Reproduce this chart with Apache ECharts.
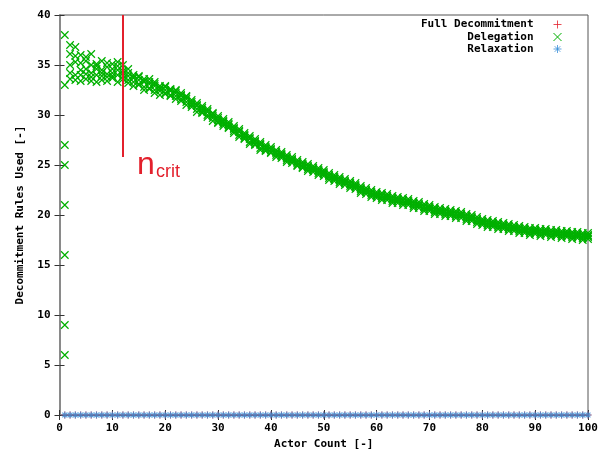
<!DOCTYPE html>
<html>
<head>
<meta charset="utf-8">
<script src="https://cdn.jsdelivr.net/npm/echarts@6/dist/echarts.min.js"></script>
<style>
  html, body { margin: 0; padding: 0; background: #fff; }
  #chart { width: 604px; height: 450px; }
</style>
</head>
<body>
<div id="chart"></div>
<script>
// Actor counts (x) shared by every run
const actorCounts = [1,2,3,4,5,6,7,8,9,10,11,12,13,14,15,16,17,18,19,20,
  21,22,23,24,25,26,27,28,29,30,31,32,33,34,35,36,37,38,39,40,
  41,42,43,44,45,46,47,48,49,50,51,52,53,54,55,56,57,58,59,60,
  61,62,63,64,65,66,67,68,69,70,71,72,73,74,75,76,77,78,79,80,
  81,82,83,84,85,86,87,88,89,90,91,92,93,94,95,96,97,98,99,100];

// Delegation: decommitment rules used, one array per simulation run
const delegationRunA = [38,37.0,36.8,35.2,33.6,35.0,34.0,35.4,33.8,34.6,
  33.3,34.4,33.5,34.0,33.1,33.6,32.7,33.1,32.4,32.8,
  32.0,32.5,31.6,31.9,31.0,31.2,30.3,30.6,29.7,29.9,
  29.1,29.3,28.4,28.6,27.7,27.9,27.1,27.3,26.5,26.8,
  26.0,26.3,25.5,25.8,25.0,25.3,24.6,24.9,24.2,24.5,
  23.7,24.0,23.3,23.6,22.9,23.2,22.4,22.7,22.0,22.3,
  21.7,22.1,21.4,21.8,21.2,21.6,20.9,21.3,20.6,21.0,
  20.3,20.7,20.1,20.5,19.9,20.3,19.6,20.0,19.3,19.6,
  19.0,19.4,18.8,19.2,18.6,19.0,18.4,18.8,18.2,18.7,
  18.1,18.6,18.0,18.5,17.9,18.4,17.8,18.3,17.7,18.2];
const delegationRunB = [33,34.2,34.0,33.4,35.4,33.8,35.1,33.9,34.8,33.7,
  34.5,33.6,34.2,33.3,33.8,32.8,33.3,32.5,32.9,32.2,
  32.6,31.9,32.2,31.3,31.5,30.6,30.9,30.0,30.2,29.3,
  29.6,28.7,28.9,28.0,28.2,27.3,27.6,26.7,27.0,26.2,
  26.5,25.7,26.0,25.2,25.5,24.7,25.1,24.3,24.7,23.9,
  24.2,23.4,23.8,23.0,23.4,22.6,22.9,22.1,22.5,21.7,
  22.2,21.5,21.9,21.2,21.7,21.0,21.4,20.7,21.1,20.4,
  20.8,20.1,20.6,19.9,20.4,19.7,20.1,19.4,19.8,19.0,
  19.5,18.8,19.3,18.6,19.1,18.4,18.9,18.2,18.7,18.1,
  18.6,18.0,18.5,17.9,18.4,17.8,18.3,17.7,18.2,17.6];
const delegationRunC = [27,36.1,35.3,36.0,34.1,36.1,33.3,34.5,35.2,34.2,
  34.0,35.0,33.9,33.7,33.5,33.3,33.1,32.9,32.7,32.5,
  32.4,32.2,32.0,31.6,31.3,30.9,30.7,30.4,29.9,29.7,
  29.4,29.1,28.7,28.4,28.0,27.7,27.4,27.1,26.8,26.5,
  26.3,26.1,25.8,25.6,25.3,25.1,24.9,24.7,24.5,24.3,
  24.0,23.8,23.6,23.4,23.2,23.0,22.7,22.5,22.3,22.1,
  22.0,21.9,21.7,21.6,21.5,21.4,21.2,21.1,20.9,20.8,
  20.6,20.5,20.4,20.3,20.2,20.1,19.9,19.8,19.6,19.4,
  19.3,19.2,19.1,19.0,18.9,18.8,18.7,18.6,18.5,18.5,
  18.4,18.4,18.3,18.3,18.2,18.2,18.1,18.1,18.0,18.0];
const delegationRunD = [25,35.0,33.5,34.5,35.8,34.2,34.6,33.5,34.1,35.1,
  34.9,33.9,33.2,32.9,33.0,32.5,33.6,32.2,32.0,32.9,
  31.9,31.6,31.4,31.0,30.8,30.3,30.5,29.8,29.4,29.5,
  28.9,28.8,28.2,27.8,27.6,27.1,27.0,26.5,26.4,26.3,
  25.8,25.9,25.3,25.4,24.9,24.8,24.4,24.5,24.0,24.1,
  23.5,23.6,23.1,23.2,22.7,22.8,22.2,22.3,21.8,21.9,
  21.5,21.7,21.2,21.4,21.0,21.2,20.7,20.9,20.4,20.6,
  20.1,20.3,19.9,20.1,19.7,19.9,19.4,19.6,19.1,19.2,
  18.8,19.0,18.6,18.8,18.4,18.6,18.2,18.4,18.0,18.3,
  17.9,18.2,17.8,18.1,17.7,18.0,17.6,17.9,17.5,17.8];
const delegationRunE = [21,33.6,35.9,34.0,34.6,33.4,34.9,34.2,33.4,33.9,
  35.3,34.2,34.6,33.8,33.9,33.4,32.6,33.3,32.6,32.1,
  32.5,32.4,31.9,31.8,31.1,31.0,30.2,30.3,30.1,29.2,
  29.3,29.0,28.6,28.3,27.9,27.6,27.3,27.0,26.7,26.6,
  26.2,26.0,25.7,25.5,25.2,25.0,24.8,24.6,24.4,24.2,
  23.9,23.7,23.5,23.3,23.1,22.9,22.6,22.4,22.2,22.0,
  21.9,21.8,21.6,21.5,21.4,21.3,21.1,21.0,20.8,20.7,
  20.5,20.4,20.3,20.2,20.1,20.0,19.8,19.7,19.5,19.3,
  19.2,19.1,19.0,18.9,18.8,18.7,18.6,18.5,18.4,18.4,
  18.3,18.3,18.2,18.2,18.1,18.1,18.0,18.0,17.9,17.9];
// Remaining runs at a single actor
const delegationSingleActorExtra = [16, 9, 6];

// Full decommitment and relaxation stay at zero for every actor count
const fullDecommitment = [0,0,0,0,0,0,0,0,0,0,0,0,0,0,0,0,0,0,0,0,
  0,0,0,0,0,0,0,0,0,0,0,0,0,0,0,0,0,0,0,0,
  0,0,0,0,0,0,0,0,0,0,0,0,0,0,0,0,0,0,0,0,
  0,0,0,0,0,0,0,0,0,0,0,0,0,0,0,0,0,0,0,0,
  0,0,0,0,0,0,0,0,0,0,0,0,0,0,0,0,0,0,0,0];
const relaxation = [0,0,0,0,0,0,0,0,0,0,0,0,0,0,0,0,0,0,0,0,
  0,0,0,0,0,0,0,0,0,0,0,0,0,0,0,0,0,0,0,0,
  0,0,0,0,0,0,0,0,0,0,0,0,0,0,0,0,0,0,0,0,
  0,0,0,0,0,0,0,0,0,0,0,0,0,0,0,0,0,0,0,0,
  0,0,0,0,0,0,0,0,0,0,0,0,0,0,0,0,0,0,0,0];

// Critical actor count marker
const nCrit = 12;
const nCritLineTop = 40;
const nCritLineBottom = 25.8;

// Axis ranges
const xRange = { min: 0, max: 100, interval: 10 };
const yRange = { min: 0, max: 40, interval: 5 };

const seriesNames = ['Full Decommitment', 'Delegation', 'Relaxation'];

const MONO = 'DejaVu Sans Mono';
const RED = '#e3202c';
const GREEN = '#00b000';
const BLUE = '#3a8ed8';

const PLUS = 'path://M5,0L5,10M0,5L10,5';
const CROSS = 'path://M0,0L10,10M10,0L0,10';
const STAR = 'path://M5,0L5,10M0,5L10,5M1.5,1.5L8.5,8.5M8.5,1.5L1.5,8.5';

function pairs(xs, ys) {
  return xs.map((x, i) => [x, ys[i]]);
}

const delegationData = []
  .concat(pairs(actorCounts, delegationRunA))
  .concat(pairs(actorCounts, delegationRunB))
  .concat(pairs(actorCounts, delegationRunC))
  .concat(pairs(actorCounts, delegationRunD))
  .concat(pairs(actorCounts, delegationRunE))
  .concat(delegationSingleActorExtra.map(v => [actorCounts[0], v]));

const labelFont = { fontFamily: MONO, fontWeight: 'bold', fontSize: 11, color: '#000' };

function legendFor(name, icon, color, top) {
  return {
    data: [{ name: name, icon: icon, itemStyle: { color: 'none', borderColor: color, borderWidth: 1 } }],
    orient: 'horizontal',
    align: 'right',
    right: 40,
    top: top,
    padding: 0,
    itemWidth: 8,
    itemHeight: 8,
    selectedMode: false,
    textStyle: Object.assign({ padding: [0, 15, 0, 0] }, labelFont)
  };
}

const chart = echarts.init(document.getElementById('chart'), null, { renderer: 'canvas' });

const axisTickStyle = { show: true, inside: true, length: 5, lineStyle: { color: '#333', width: 1 } };

chart.setOption({
  animation: false,
  backgroundColor: '#fff',
  grid: {
    left: 59.5, right: 16, top: 15, bottom: 35,
    outerBoundsMode: 'none', containLabel: false,
    show: true, borderColor: '#555', borderWidth: 1, backgroundColor: 'transparent'
  },
  legend: [
    legendFor(seriesNames[0], PLUS, RED, 18),
    legendFor(seriesNames[1], CROSS, GREEN, 30.5),
    legendFor(seriesNames[2], STAR, BLUE, 42.5)
  ],
  xAxis: [{
    type: 'value', min: xRange.min, max: xRange.max, interval: xRange.interval,
    name: 'Actor Count [-]', nameLocation: 'middle', nameGap: 23,
    nameTextStyle: labelFont,
    axisLine: { show: true, lineStyle: { color: '#555', width: 1 } },
    axisTick: axisTickStyle,
    axisLabel: Object.assign({ margin: 8 }, labelFont),
    splitLine: { show: false }
  }, {
    type: 'value', position: 'top', min: xRange.min, max: xRange.max, interval: xRange.interval,
    axisLine: { show: false }, axisTick: axisTickStyle, axisLabel: { show: false }, splitLine: { show: false }
  }],
  yAxis: [{
    type: 'value', min: yRange.min, max: yRange.max, interval: yRange.interval,
    name: 'Decommitment Rules Used [-]', nameLocation: 'middle', nameGap: 34,
    nameTextStyle: labelFont,
    axisLine: { show: true, lineStyle: { color: '#8a8a8a', width: 2 } },
    axisTick: axisTickStyle,
    axisLabel: Object.assign({ margin: 9 }, labelFont),
    splitLine: { show: false }
  }, {
    type: 'value', position: 'right', min: yRange.min, max: yRange.max, interval: yRange.interval,
    axisLine: { show: false }, axisTick: axisTickStyle, axisLabel: { show: false }, splitLine: { show: false }
  }],
  series: [{
    name: seriesNames[0], type: 'scatter', symbol: PLUS, symbolSize: 7,
    itemStyle: { color: 'none', borderColor: RED, borderWidth: 1 },
    data: pairs(actorCounts, fullDecommitment)
  }, {
    name: seriesNames[1], type: 'scatter', symbol: CROSS, symbolSize: 7.5,
    itemStyle: { color: 'none', borderColor: GREEN, borderWidth: 1.2, opacity: 1 },
    data: delegationData,
    markLine: {
      silent: true, symbol: ['none', 'none'], animation: false,
      label: { show: false },
      lineStyle: { color: RED, width: 2, type: 'solid', opacity: 1 },
      data: [[{ coord: [nCrit, nCritLineTop] }, { coord: [nCrit, nCritLineBottom] }]]
    }
  }, {
    name: seriesNames[2], type: 'scatter', symbol: STAR, symbolSize: 7,
    itemStyle: { color: 'none', borderColor: BLUE, borderWidth: 1.2 },
    data: pairs(actorCounts, relaxation)
  }]
});

// n_crit caption placed next to the lower end of the marker line
const p = chart.convertToPixel({ xAxisIndex: 0, yAxisIndex: 0 }, [nCrit, nCritLineBottom]);
chart.setOption({
  graphic: [{
    type: 'text', x: p[0] + 14, y: p[1] + 24,
    style: { text: 'n', fill: RED, font: '32px "Liberation Sans"', verticalAlign: 'bottom' }
  }, {
    type: 'text', x: p[0] + 33, y: p[1] + 24,
    style: { text: 'crit', fill: RED, font: '18px "Liberation Sans"', verticalAlign: 'bottom' }
  }]
});
</script>
</body>
</html>
